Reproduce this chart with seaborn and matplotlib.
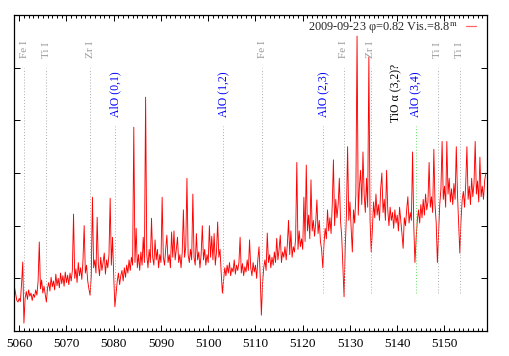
import numpy as np
import pandas as pd
import matplotlib
matplotlib.use("Agg")
import matplotlib.pyplot as plt
from matplotlib.ticker import MultipleLocator, NullFormatter
from matplotlib.lines import Line2D
import seaborn as sns

# ---------------- data ----------------
wl_start = 5059.0
wl_step = 0.25
flux = [
    0.83, 0.70, 0.58, 0.55, 0.62, 0.56, 0.90, 1.31, 0.15, 0.62, 0.75, 0.60, 0.78, 0.66, 0.72, 0.58, 0.70, 0.64, 0.78, 0.68,
    0.95, 1.69, 0.80, 0.97, 0.72, 0.85, 0.70, 0.55, 0.82, 0.92, 0.76, 1.02, 0.84, 0.95, 0.78, 1.08, 0.86, 1.00, 0.82, 1.10,
    0.90, 1.05, 0.85, 1.12, 0.92, 1.06, 0.88, 1.10, 0.95, 1.15, 2.22, 1.00, 1.18, 0.92, 1.30, 1.05, 1.20, 0.98, 1.35, 2.00,
    1.10, 1.25, 0.95, 0.80, 0.68, 1.05, 2.54, 1.20, 1.35, 1.10, 2.16, 1.25, 1.05, 1.40, 1.15, 1.30, 1.48, 1.08, 1.35, 1.20,
    1.45, 2.52, 1.25, 1.78, 1.05, 0.46, 0.70, 0.95, 1.10, 0.88, 1.05, 1.15, 0.95, 1.20, 1.02, 1.25, 1.10, 1.35, 1.15, 1.40,
    1.25, 3.87, 1.30, 1.95, 1.20, 1.45, 1.15, 1.50, 1.25, 1.78, 1.30, 4.44, 1.45, 1.20, 1.55, 1.30, 2.14, 1.40, 1.25, 1.73,
    1.35, 1.55, 1.20, 1.45, 1.30, 2.54, 1.40, 1.25, 1.55, 1.82, 1.30, 1.45, 1.20, 1.88, 1.40, 1.90, 1.35, 1.55, 1.78, 1.30,
    1.45, 1.20, 1.50, 2.30, 1.40, 1.60, 2.90, 1.45, 1.30, 1.55, 1.35, 2.60, 1.40, 1.25, 1.85, 1.35, 1.50, 1.20, 1.45, 2.00,
    1.35, 1.55, 1.25, 1.45, 1.30, 2.00, 1.40, 1.80, 1.35, 1.85, 1.25, 1.50, 2.07, 1.40, 1.55, 1.10, 0.72, 0.95, 1.20, 1.05,
    1.25, 1.10, 1.30, 1.05, 1.20, 1.12, 1.35, 1.08, 1.25, 1.15, 1.30, 1.78, 1.10, 1.28, 1.05, 1.22, 1.12, 1.35, 1.15, 1.73,
    1.20, 1.05, 1.30, 1.12, 1.25, 1.00, 1.35, 1.60, 1.05, 0.30, 0.90, 1.20, 1.35, 1.15, 1.86, 1.30, 1.45, 1.20, 1.40, 1.25,
    1.50, 1.30, 1.76, 1.35, 1.55, 1.82, 1.30, 1.50, 1.40, 1.60, 1.35, 1.65, 2.10, 1.45, 1.90, 1.40, 1.60, 1.50, 1.75, 3.20,
    1.55, 1.90, 1.60, 1.75, 1.55, 2.54, 1.70, 3.15, 1.90, 2.20, 1.75, 2.87, 1.90, 2.10, 1.80, 2.05, 2.49, 1.85, 2.10, 1.70,
    1.55, 1.20, 1.65, 1.95, 1.75, 2.30, 1.90, 2.15, 1.85, 2.40, 3.25, 2.00, 2.50, 2.15, 2.40, 2.90, 2.10, 1.80, 1.20, 0.65,
    1.60, 2.20, 3.50, 2.10, 2.45, 1.95, 1.50, 2.30, 2.05, 2.60, 5.60, 2.20, 2.75, 3.05, 2.40, 3.40, 2.60, 2.25, 2.90, 2.35,
    5.20, 2.10, 1.50, 1.95, 2.45, 2.15, 2.60, 2.20, 2.40, 2.10, 2.70, 3.00, 2.25, 2.50, 2.10, 3.05, 2.30, 2.00, 2.35, 2.10,
    2.25, 1.95, 2.30, 2.05, 2.20, 1.90, 2.35, 2.10, 1.85, 1.57, 2.15, 2.00, 2.30, 2.55, 2.05, 2.25, 2.10, 3.40, 2.00, 1.30,
    1.75, 2.10, 2.30, 2.05, 2.40, 2.15, 2.50, 2.20, 2.60, 2.30, 2.45, 3.20, 2.35, 2.55, 2.25, 3.45, 2.40, 2.05, 1.30, 1.85,
    2.40, 2.70, 3.60, 2.50, 2.75, 2.35, 3.60, 2.60, 2.90, 2.45, 2.70, 2.40, 2.80, 2.50, 3.50, 2.60, 2.05, 1.48, 2.10, 2.50,
    2.65, 2.35, 2.80, 3.50, 2.50, 2.75, 2.40, 2.90, 2.55, 2.80, 3.60, 2.60, 2.85, 2.45, 3.30, 2.55, 2.75, 2.50, 2.85, 3.00,
]
wavelength = wl_start + wl_step * np.arange(len(flux))

# atomic line identifications (gray)
atom_labels = ["Fe I", "Ti I", "Zr I", "Fe I", "Fe I", "Zr I", "Ti I", "Ti I"]
atom_wl = [5061.1, 5065.7, 5075.0, 5111.4, 5128.7, 5134.4, 5148.6, 5153.2]
# AlO band heads (blue labels, green lines)
alo_labels = ["AlO (0,1)", "AlO (1,2)", "AlO (2,3)", "AlO (3,4)"]
alo_wl = [5080.3, 5103.1, 5124.3, 5143.9]
# TiO label
tio_label = "TiO \u03b1 (3,2)?"
tio_wl = 5139.9

legend_label = "2009-09-23 \u03c6=0.82 Vis.=8.8$^{\\mathrm{m}}$"
xticks = [5060, 5070, 5080, 5090, 5100, 5110, 5120, 5130, 5140, 5150]

df = pd.DataFrame({"wavelength": wavelength, "flux": flux})

# ---------------- plot ----------------
sns.set_style("ticks")
plt.rcParams["font.family"] = ["Liberation Serif", "DejaVu Serif"]
plt.rcParams["mathtext.fontset"] = "stix"

fig = plt.figure(figsize=(5.09, 3.56), dpi=100)
ax = fig.add_axes([14 / 509, 25 / 356, (487 - 14) / 509, (331 - 15) / 356])

sns.lineplot(data=df, x="wavelength", y="flux", ax=ax, color="#ff0000",
             lw=0.65, estimator=None, sort=False)

for lab, w in zip(atom_labels, atom_wl):
    ax.plot([w, w], [0.72, 5.0], ls=(0, (1, 2)), color="#aaaaaa", lw=0.7)
    ax.text(w, 5.18, lab, rotation=90, ha="center", va="bottom",
            color="#999999", fontsize=8)

for lab, w in zip(alo_labels, alo_wl):
    ax.plot([w, w], [0.72, 3.89], ls=(0, (1, 2)), color="#66dd66", lw=0.7)
    ax.text(w, 4.06, lab, rotation=90, ha="center", va="bottom",
            color="#0000ff", fontsize=8.5)

ax.text(tio_wl, 3.97, tio_label, rotation=90, ha="center", va="bottom",
        color="black", fontsize=8.5)

ax.set_xlim(5058.9, 5159.0)
ax.set_ylim(0, 6)
ax.xaxis.set_major_locator(MultipleLocator(10))
ax.xaxis.set_minor_locator(MultipleLocator(1))
ax.set_xticks(xticks)
ax.yaxis.set_major_locator(MultipleLocator(1))
ax.yaxis.set_major_formatter(NullFormatter())
ax.tick_params(axis="both", which="both", direction="in", top=True, right=True,
               colors="black", width=0.7)
ax.tick_params(axis="both", which="major", length=4.5, labelsize=9.5)
ax.tick_params(axis="both", which="minor", length=2)
ax.tick_params(axis="x", pad=5)
ax.set_xlabel("")
ax.set_ylabel("")
for s in ax.spines.values():
    s.set_color("black")
    s.set_linewidth(0.9)

handle = Line2D([], [], color="#ff6666", lw=0.9)
ax.legend([handle], [legend_label], loc="upper right", frameon=False,
          markerfirst=False, handlelength=0.8, handletextpad=0.7, fontsize=8.8,
          bbox_to_anchor=(0.995, 1.01), borderaxespad=0.3)

fig.savefig("out.png", dpi=100)
